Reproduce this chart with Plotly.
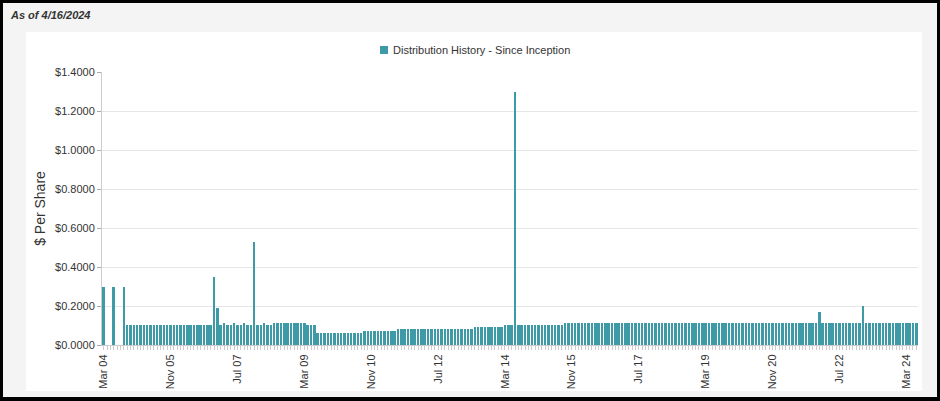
import plotly.graph_objects as go

# distribution per share, one value per category (None = no payment that period)
dist_values = [
    0.30, None, None, 0.30, None, None, 0.30, 0.101, 0.101, 0.101, 0.101, 0.101,
    0.101, 0.101, 0.101, 0.101, 0.101, 0.101, 0.101, 0.101, 0.101, 0.101, 0.101, 0.101,
    0.101, 0.101, 0.101, 0.101, 0.101, 0.101, 0.101, 0.101, 0.101, 0.35, 0.19, 0.101,
    0.111, 0.101, 0.101, 0.111, 0.101, 0.101, 0.111, 0.101, 0.101, 0.53, 0.101, 0.101,
    0.111, 0.101, 0.101, 0.111, 0.111, 0.112, 0.112, 0.112, 0.112, 0.112, 0.112, 0.112,
    0.112, 0.103, 0.103, 0.103, 0.06, 0.06, 0.06, 0.06, 0.06, 0.06, 0.06, 0.06,
    0.06, 0.06, 0.06, 0.06, 0.06, 0.06, 0.07, 0.07, 0.07, 0.07, 0.07, 0.07,
    0.07, 0.07, 0.07, 0.07, 0.08, 0.08, 0.08, 0.08, 0.08, 0.08, 0.08, 0.08,
    0.08, 0.08, 0.08, 0.08, 0.08, 0.08, 0.08, 0.08, 0.08, 0.08, 0.08, 0.08,
    0.08, 0.08, 0.08, 0.092, 0.092, 0.092, 0.092, 0.092, 0.092, 0.092, 0.092, 0.092,
    0.103, 0.103, 0.103, 1.30, 0.103, 0.103, 0.103, 0.103, 0.103, 0.103, 0.103, 0.103,
    0.103, 0.103, 0.103, 0.103, 0.103, 0.103, 0.111, 0.111, 0.111, 0.111, 0.111, 0.111,
    0.111, 0.111, 0.111, 0.111, 0.111, 0.111, 0.111, 0.111, 0.111, 0.111, 0.111, 0.111,
    0.111, 0.111, 0.111, 0.111, 0.111, 0.111, 0.111, 0.111, 0.111, 0.111, 0.111, 0.111,
    0.111, 0.111, 0.111, 0.111, 0.111, 0.111, 0.111, 0.111, 0.111, 0.111, 0.111, 0.111,
    0.111, 0.111, 0.111, 0.111, 0.111, 0.111, 0.111, 0.111, 0.111, 0.111, 0.111, 0.111,
    0.111, 0.111, 0.111, 0.111, 0.111, 0.111, 0.111, 0.111, 0.111, 0.111, 0.111, 0.111,
    0.111, 0.111, 0.111, 0.111, 0.111, 0.111, 0.111, 0.111, 0.111, 0.111, 0.171, 0.111,
    0.111, 0.111, 0.111, 0.111, 0.111, 0.111, 0.111, 0.111, 0.111, 0.111, 0.111, 0.198,
    0.111, 0.111, 0.111, 0.111, 0.111, 0.111, 0.111, 0.111, 0.111, 0.111, 0.111, 0.111,
    0.111, 0.111, 0.111, 0.111,
]
categories = list(range(len(dist_values)))

tick_pos = [0, 20, 40, 60, 80, 100, 120, 140, 160, 180, 200, 220, 240]
tick_labels = ["Mar 04", "Nov 05", "Jul 07", "Mar 09", "Nov 10", "Jul 12", "Mar 14",
               "Nov 15", "Jul 17", "Mar 19", "Nov 20", "Jul 22", "Mar 24"]

W, H = 940, 401
L, R, T, B = 102, 22, 72, 56   # plot area in px
pw, ph = W - L - R, H - T - B

def px_x(x):  # page px -> paper coords
    return (x - L) / pw

def px_y(y):
    return (H - B - y) / ph

FONT = "Liberation Sans, Arial, sans-serif"
BAR_COL = "#3f9aa8"

fig = go.Figure()
fig.add_trace(go.Bar(x=categories, y=dist_values, width=0.74,
                     marker=dict(color=BAR_COL, line=dict(width=0)),
                     name="Distribution History - Since Inception",
                     showlegend=False))

# page frame: black border, grey card, white chart panel
fig.add_shape(type="rect", xref="paper", yref="paper", layer="below",
              x0=px_x(3), x1=px_x(937), y0=px_y(397), y1=px_y(3),
              fillcolor="#f4f4f4", line=dict(width=0))
fig.add_shape(type="rect", xref="paper", yref="paper", layer="below",
              x0=px_x(26), x1=px_x(922), y0=px_y(391), y1=px_y(32),
              fillcolor="white", line=dict(width=0))

fig.add_annotation(text="<b><i>As of 4/16/2024</i></b>", xref="paper", yref="paper",
                   x=px_x(8), y=px_y(15), xanchor="left", yanchor="middle",
                   showarrow=False, font=dict(family=FONT, size=11, color="#333"))

# legend: colored square + series name
fig.add_shape(type="rect", xref="paper", yref="paper",
              x0=px_x(380), x1=px_x(388), y0=px_y(54), y1=px_y(46),
              fillcolor=BAR_COL, line=dict(width=0))
fig.add_annotation(text="Distribution History - Since Inception",
                   xref="paper", yref="paper", x=px_x(391), y=px_y(50),
                   xanchor="left", yanchor="middle", showarrow=False,
                   font=dict(family=FONT, size=11, color="#333"))

fig.update_layout(
    width=W, height=H,
    margin=dict(l=L, r=R, t=T, b=B, pad=0),
    paper_bgcolor="black", plot_bgcolor="white",
    font=dict(family=FONT, size=11, color="#333"),
    bargap=0,
    xaxis=dict(range=[-0.5, len(dist_values) - 0.5], tickmode="array",
               tickvals=tick_pos, ticktext=tick_labels, tickangle=-90,
               showgrid=False, zeroline=False, showline=True, linecolor="#ccc",
               ticks="outside", ticklen=4, tickcolor="#ccc",
               minor=dict(ticks="outside", dtick=1, tick0=0, ticklen=4, tickcolor="#ccc"),
               tickfont=dict(size=11, color="#333")),
    yaxis=dict(range=[0, 1.4], dtick=0.2, tickformat="$.4f",
               showgrid=True, gridcolor="#e6e6e6", zeroline=False,
               showline=True, linecolor="#ccc", ticks="outside", ticklen=4,
               tickcolor="#aaa", tickfont=dict(size=11, color="#333"),
               title=dict(text="$ Per Share", standoff=6,
                          font=dict(size=14, color="#333"))),
)

fig.write_html("out.html", config={"displayModeBar": False},
               post_script="document.body.style.margin='0';")
